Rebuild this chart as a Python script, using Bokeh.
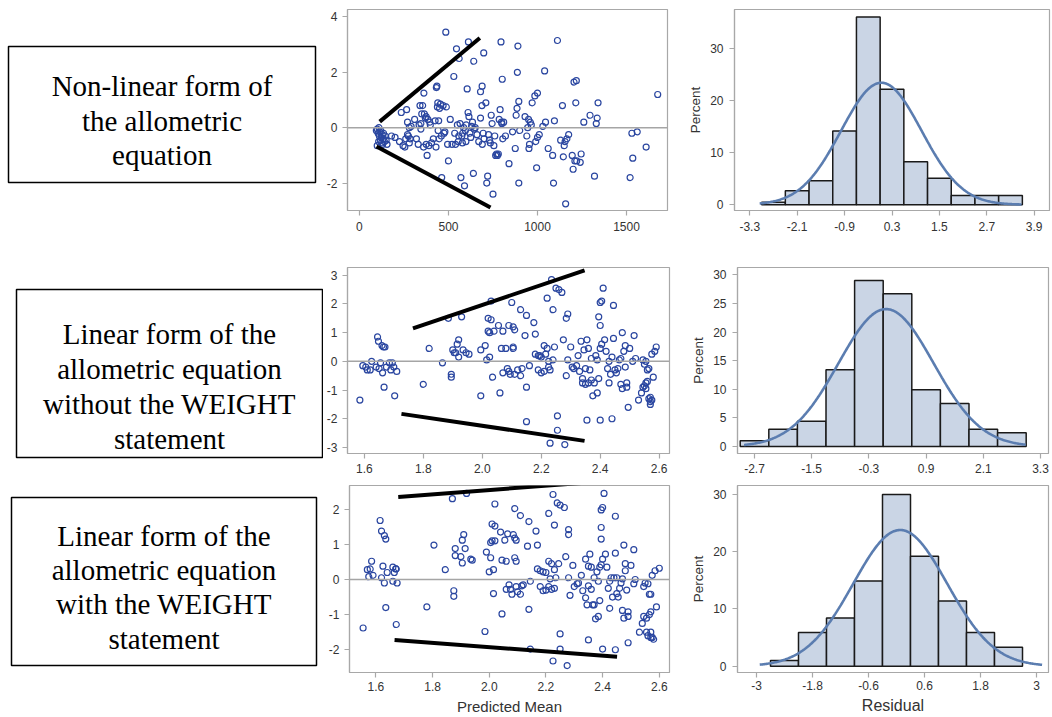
import numpy as np
from bokeh.plotting import figure
from bokeh.layouts import column, row
from bokeh.models import Range1d, FixedTicker, Span, Label, PolyAnnotation, Arrow
from bokeh.embed import file_html
from bokeh.resources import INLINE

# ---------------- data ----------------
panel_text = [
    ["Non-linear form of", "the allometric", "equation"],
    ["Linear form of the", "allometric equation", "without the WEIGHT", "statement"],
    ["Linear form of the", "allometric equation", "with the WEIGHT", "statement"],
]

# residual vs predicted (non-linear form)
scatter1_points = [
    (95,-0.1),(100,-0.05),(105,-0.2),(110,0.0),(112,-0.3),(115,-0.15),(118,-0.45),(120,-0.1),(122,-0.35),(125,-0.55),
    (128,-0.25),(130,-0.6),(133,-0.4),(135,-0.2),(140,-0.5),(145,-0.3),(100,-0.65),(108,-0.5),(150,-0.45),(155,-0.6),
    (180,-0.3),(200,-0.35),(225,-0.5),(235,0.55),(245,-0.65),(255,-0.7),(260,-0.4),(265,0.65),(270,0.2),(275,-0.3),
    (280,0.0),(285,-0.4),(290,0.05),(270,-0.25),(280,-0.55),
    (310,0.3),(320,-0.4),(330,-0.6),(335,0.1),(340,0.8),(345,0.15),(350,0.5),(355,0.8),(360,-0.7),(362,1.25),
    (365,0.5),(370,0.35),(375,-0.6),(380,-1.0),(385,0.3),(390,-0.65),(395,0.2),(398,0.1),(345,-0.05),(375,0.4),
    (405,-0.55),(415,-0.4),(425,0.25),(430,-0.7),(432,1.45),(435,1.5),(438,0.75),(440,0.9),(442,-0.1),(445,0.25),
    (448,-0.4),(450,0.7),(455,0.85),(460,-0.3),(462,-1.8),(470,0.8),(475,-0.2),(480,-0.15),(485,3.45),(488,0.75),
    (495,-0.6),(500,-1.2),
    (510,0.3),(520,-0.6),(530,1.85),(535,-0.2),(540,-0.6),(545,2.85),(550,0.1),(555,-0.5),(558,-0.3),(560,2.5),
    (565,0.15),(570,-1.8),(575,-0.3),(578,-0.55),(580,-0.2),(585,0.0),(590,-2.1),(595,-0.1),(600,0.1),(598,-0.5),
    (605,1.4),(610,0.55),(612,3.1),(615,0.4),(620,-0.2),(625,-0.35),(630,0.05),(635,0.2),(640,-1.65),(642,2.4),
    (645,-0.05),(650,0.0),(660,-0.25),(680,1.3),(670,-0.5),(689,1.5),(680,0.35),(698,2.7),(688,0.8),(690,-0.6),
    (695,-0.2),(700,-0.4),
    (710,0.9),(715,-2.0),(720,-1.75),(725,-0.25),(730,-0.45),(735,-0.55),(740,0.45),(745,0.15),(750,-2.4),(755,-0.65),
    (760,-0.3),(765,-1.0),(770,-0.95),(775,-1.0),(780,-0.95),(785,0.3),(790,0.65),(802,1.75),(795,3.1),(798,0.2),
    (800,0.15),(805,-0.4),
    (810,0.2),(820,-0.3),(840,-1.3),(860,-0.15),(875,-0.75),(880,0.45),(885,0.7),(887,2.0),(890,2.95),(895,0.95),
    (900,-0.1),(895,-2.0),
    (930,0.4),(940,-0.3),(945,0.0),(950,0.3),(952,-0.75),(955,-0.6),(960,0.2),(965,0.1),(970,0.9),(985,1.15),
    (990,-0.5),(995,-1.45),(1000,1.25),(1000,-0.35),
    (1010,-0.25),(1030,0.05),(1040,2.05),(1045,0.2),(1060,-0.75),(1085,-1.0),(1090,-2.0),(1095,0.25),
    (1112,3.15),(1130,-0.45),(1140,0.8),(1145,-1.05),(1150,-0.65),(1155,-0.5),(1158,-2.75),(1165,-0.4),(1175,-0.25),
    (1195,-1.0),(1200,-1.5),(1205,1.65),(1210,-1.2),(1215,0.9),(1218,1.7),(1220,-1.2),(1240,-1.25),(1245,-0.95),
    (1260,0.2),(1295,0.45),(1320,-1.75),(1330,0.15),(1335,0.35),(1340,0.9),(1520,-1.8),(1530,-0.2),(1535,-1.1),
    (1560,-0.15),(1610,-0.7),(1675,1.2),
]

# linear form without WEIGHT
scatter2_points = [
    (1.585,-1.35),(1.595,-0.15),(1.605,-0.2),(1.61,-0.3),(1.62,-0.3),(1.625,0.0),(1.645,0.85),(1.648,0.7),(1.65,-0.25),
    (1.655,-0.05),(1.66,0.55),(1.662,-0.4),(1.665,0.5),(1.667,-0.9),(1.67,0.5),(1.675,-0.2),(1.685,-0.05),(1.69,-0.3),
    (1.695,-0.05),(1.70,-0.2),(1.703,-1.2),(1.71,-0.35),(1.64,-0.2),
    (1.80,-0.8),(1.82,0.45),(1.865,-0.05),(1.885,1.5),(1.895,-0.45),(1.895,-0.55),(1.90,0.4),(1.905,0.3),(1.91,0.3),
    (1.915,0.6),(1.92,0.75),(1.92,0.15),(1.93,1.55),(1.935,0.4),(1.945,0.3),(1.955,0.25),
    (1.995,0.4),(1.995,-1.2),(2.01,0.55),(2.015,0.05),(2.02,1.5),(2.02,1.05),(2.025,1.0),(2.025,0.15),(2.03,1.45),
    (2.03,2.1),(2.035,-0.55),(2.04,1.05),(2.055,1.25),(2.06,-1.1),(2.065,0.45),(2.07,1.05),(2.07,-0.4),(2.08,0.45),
    (2.085,-0.25),(2.09,-0.35),(2.09,1.25),(2.095,-0.45),(2.10,2.05),(2.105,1.2),(2.105,0.5),(2.105,0.45),(2.11,1.1),
    (2.11,-0.45),
    (2.12,-0.3),(2.13,1.8),(2.13,-0.5),(2.135,-0.25),(2.145,0.9),(2.15,1.6),(2.15,-0.9),(2.15,-2.1),(2.16,-0.15),
    (2.175,1.35),(2.18,0.95),(2.18,0.25),(2.19,0.2),(2.19,-0.3),(2.195,0.2),(2.20,-0.4),(2.20,0.15),
    (2.21,0.55),(2.21,-0.35),(2.215,0.25),(2.22,2.2),(2.22,0.45),(2.225,-0.2),(2.225,0.0),(2.23,-0.3),(2.23,-2.85),
    (2.235,2.85),(2.24,1.8),(2.24,0.05),(2.245,0.5),(2.25,2.55),(2.255,-2.4),(2.255,-1.9),(2.26,2.5),(2.27,2.4),
    (2.275,0.75),(2.28,-2.9),(2.285,1.5),(2.29,1.65),(2.29,0.05),(2.285,-0.5),(2.30,0.5),
    (2.305,-0.2),(2.31,-0.25),(2.32,-0.15),(2.325,0.2),(2.33,-0.35),(2.335,0.7),(2.34,-0.6),(2.34,-0.75),(2.345,0.4),
    (2.35,-0.8),(2.35,-0.25),(2.355,0.75),(2.355,-2.05),(2.36,0.45),(2.36,-0.75),(2.365,-0.3),(2.37,0.1),(2.37,-0.65),
    (2.375,-1.2),(2.38,-0.75),(2.385,0.2),(2.39,-1.1),(2.39,0.05),(2.395,-0.6),(2.395,1.55),(2.40,2.05),(2.40,1.25),
    (2.40,0.45),(2.40,-2.05),
    (2.405,2.1),(2.405,0.6),(2.41,2.55),(2.415,0.75),(2.42,0.35),(2.425,-0.25),(2.43,-0.75),(2.43,0.0),(2.435,-0.45),
    (2.44,0.15),(2.44,-2.0),(2.445,1.95),(2.445,0.8),(2.45,-0.3),(2.455,-0.4),(2.46,-0.25),(2.465,0.05),(2.47,0.1),
    (2.47,-0.8),(2.475,1.0),(2.475,-0.95),(2.48,0.35),(2.485,0.55),(2.485,-0.2),(2.49,-0.75),(2.49,-0.9),(2.495,-1.6),
    (2.50,0.45),
    (2.51,0.0),(2.515,0.9),(2.52,0.1),(2.53,-1.35),(2.54,-1.1),(2.545,-0.9),(2.545,0.05),(2.55,-0.85),(2.55,-0.1),
    (2.555,0.0),(2.555,-0.75),(2.56,-0.3),(2.56,-0.7),(2.565,-0.25),(2.565,-1.3),(2.57,-1.4),(2.57,-1.5),(2.575,-1.35),
    (2.575,0.25),(2.58,-0.55),(2.585,0.35),(2.59,0.5),(2.555,-0.95),(2.57,-1.25),
]

# linear form with WEIGHT
scatter3_points = [
    (1.555,-1.38),(1.57,0.28),(1.575,0.08),(1.58,0.3),(1.585,0.52),(1.59,0.12),(1.615,1.68),(1.62,1.38),(1.62,0.05),
    (1.625,0.38),(1.63,1.25),(1.63,-0.1),(1.635,1.15),(1.635,-0.8),(1.64,0.2),(1.66,0.35),(1.66,-0.05),(1.665,0.2),
    (1.67,0.3),(1.672,-1.28),(1.675,-0.1),(1.672,0.3),
    (1.78,-0.78),(1.805,0.98),(1.845,0.28),(1.87,2.3),(1.875,-0.32),(1.875,-0.48),(1.88,0.88),(1.88,0.68),(1.90,0.65),
    (1.905,1.12),(1.905,0.47),(1.91,1.28),(1.915,0.88),(1.92,2.45),(1.935,0.58),(1.94,0.55),
    (1.985,-1.48),(1.99,0.78),(2.0,0.22),(2.005,1.05),(2.005,0.62),(2.01,1.58),(2.01,1.1),(2.015,-0.4),(2.015,0.28),
    (2.02,1.52),(2.02,1.1),(2.02,2.15),(2.04,1.35),(2.045,0.55),(2.045,-0.98),(2.055,1.12),(2.06,0.52),(2.06,-0.28),
    (2.065,1.3),(2.07,-0.15),(2.075,-0.28),(2.08,-0.42),(2.085,1.28),(2.09,1.18),(2.09,2.02),(2.09,0.62),(2.095,0.52),
    (2.095,1.12),(2.095,-0.2),(2.10,-0.35),
    (2.11,1.82),(2.11,-0.42),(2.115,-0.18),(2.12,-0.15),(2.135,0.95),(2.14,1.65),(2.14,-0.85),(2.145,-0.05),
    (2.145,-1.98),(2.165,1.38),(2.17,0.98),(2.17,0.3),(2.18,0.25),(2.18,-0.2),(2.19,0.22),(2.19,-0.32),(2.20,0.2),
    (2.20,-0.3),
    (2.21,1.88),(2.21,0.52),(2.21,-0.2),(2.215,0.02),(2.22,0.45),(2.22,-0.28),(2.225,2.42),(2.225,-2.32),(2.23,1.55),
    (2.23,0.28),(2.23,-0.25),(2.235,0.05),(2.24,2.18),(2.245,0.45),(2.25,-1.55),(2.25,2.12),(2.25,-1.98),(2.265,2.05),
    (2.27,0.65),(2.275,-2.45),(2.28,1.42),(2.28,1.28),(2.28,0.05),(2.285,-0.45),(2.295,0.4),(2.30,-0.2),
    (2.31,-0.12),(2.315,-0.1),(2.325,0.12),(2.33,-0.32),(2.34,0.58),(2.34,-0.52),(2.345,-0.72),(2.35,0.38),(2.35,-0.18),
    (2.35,-1.72),(2.355,0.72),(2.36,0.35),(2.36,-0.28),(2.365,-0.72),(2.37,0.05),(2.37,-0.72),(2.375,-1.12),(2.38,0.22),
    (2.385,-0.05),(2.385,-1.05),(2.39,0.35),(2.39,-0.6),(2.395,1.98),(2.395,1.48),(2.395,1.15),(2.395,0.42),(2.40,2.05),
    (2.40,0.58),(2.40,-1.98),
    (2.405,2.45),(2.41,0.72),(2.415,0.35),(2.42,-0.25),(2.425,-0.05),(2.425,-0.82),(2.43,0.05),(2.435,-0.5),(2.44,0.05),
    (2.445,0.75),(2.445,1.8),(2.445,-2.0),(2.45,-0.4),(2.45,0.05),(2.455,-0.5),(2.46,-0.25),(2.465,-0.1),(2.47,0.02),
    (2.47,-0.88),(2.475,0.98),(2.475,-1.1),(2.48,0.45),(2.48,0.25),(2.485,-0.3),(2.49,-0.92),(2.49,-1.05),(2.49,-1.8),
    (2.50,0.4),
    (2.51,0.85),(2.51,-0.12),(2.515,0.0),(2.53,-1.5),(2.54,-1.25),(2.545,-1.05),(2.545,-0.2),(2.55,-0.1),(2.555,-1.1),
    (2.555,-1.5),(2.56,-0.12),(2.56,-1.6),(2.565,-1.0),(2.565,-0.42),(2.57,-0.42),(2.57,-0.92),(2.57,-1.65),(2.57,-1.5),
    (2.575,0.12),(2.575,-1.65),(2.58,-1.7),(2.585,0.25),(2.59,-0.78),(2.60,0.32),
]

# hand-drawn envelope lines (x0, y0, x1, y1)
scatter1_guides = [(114, 0.22, 676, 3.24), (96, -0.68, 736, -2.88)]
scatter2_guides = [(1.765, 1.15, 2.347, 3.17), (1.726, -1.83, 2.347, -2.77)]
scatter3_guides = [(1.679, 2.35, 2.386, 2.785), (1.666, -1.72, 2.451, -2.20)]

# histograms of residuals (percent per bin)
hist1_edges = [-3.0, -2.4, -1.8, -1.2, -0.6, 0.0, 0.6, 1.2, 1.8, 2.4, 3.0, 3.6]
hist1_percent = [0.5, 2.7, 4.6, 14.2, 36.1, 22.2, 8.3, 5.1, 1.8, 1.8, 1.8]
hist2_edges = [-3.0, -2.4, -1.8, -1.2, -0.6, 0.0, 0.6, 1.2, 1.8, 2.4, 3.0]
hist2_percent = [1.0, 3.0, 4.4, 13.4, 29.0, 26.7, 9.9, 7.5, 3.0, 2.4]
hist3_edges = [-2.7, -2.1, -1.5, -0.9, -0.3, 0.3, 0.9, 1.5, 2.1, 2.7]
hist3_percent = [1.0, 5.9, 8.4, 14.9, 30.0, 19.2, 11.4, 5.9, 3.3]

# fitted normal curves: (mean, sd, drawn from, drawn to)
hist1_normal = (0.03, 1.02, -3.05, 3.58)
hist2_normal = (0.06, 0.997, -2.92, 2.99)
hist3_normal = (0.08, 1.006, -2.93, 3.12)

# tick values and labels
s1_xticks, s1_xlabels = [0, 500, 1000, 1500], ["0", "500", "1000", "1500"]
s1_yticks, s1_ylabels = [-2, 0, 2, 4], ["-2", "0", "2", "4"]
s23_xticks = [1.6, 1.8, 2.0, 2.2, 2.4, 2.6]
s23_xlabels = ["1.6", "1.8", "2.0", "2.2", "2.4", "2.6"]
s2_yticks, s2_ylabels = [-3, -2, -1, 0, 1, 2, 3], ["-3", "-2", "-1", "0", "1", "2", "3"]
s3_yticks, s3_ylabels = [-2, -1, 0, 1, 2], ["-2", "-1", "0", "1", "2"]
h1_xticks = [-3.3, -2.1, -0.9, 0.3, 1.5, 2.7, 3.9]
h1_xlabels = ["-3.3", "-2.1", "-0.9", "0.3", "1.5", "2.7", "3.9"]
h2_xticks = [-2.7, -1.5, -0.3, 0.9, 2.1, 3.3]
h2_xlabels = ["-2.7", "-1.5", "-0.3", "0.9", "2.1", "3.3"]
h3_xticks = [-3.0, -1.8, -0.6, 0.6, 1.8, 3.0]
h3_xlabels = ["-3", "-1.8", "-0.6", "0.6", "1.8", "3"]
h1_yticks, h1_ylabels = [0, 10, 20, 30], ["0", "10", "20", "30"]
h2_yticks, h2_ylabels = [0, 5, 10, 15, 20, 25, 30], ["0", "5", "10", "15", "20", "25", "30"]
h3_yticks, h3_ylabels = [0, 10, 20, 30], ["0", "10", "20", "30"]

# ---------------- styling ----------------
SANS = "Liberation Sans"
SERIF = "Liberation Serif"
TXT = "#333333"
WALL = "#a8a8a8"
MARK = "#2a46a0"
BAR_FILL = "#cad5e5"
CURVE = "#5b7db0"
BOX_W = 323


def style_axes(p, xt, xl, yt, yl, x_out=5, x_standoff=6, y_standoff=5):
    p.grid.grid_line_color = None
    p.outline_line_color = WALL
    p.outline_line_width = 1.2
    for ax in (p.xaxis[0], p.yaxis[0]):
        ax.axis_line_color = WALL
        ax.axis_line_width = 1.2
        ax.major_tick_line_color = WALL
        ax.major_tick_line_width = 1.2
        ax.major_tick_in = 0
        ax.minor_tick_line_color = None
        ax.major_label_text_font = SANS
        ax.major_label_text_font_size = "12px"
        ax.major_label_text_color = TXT
        ax.axis_label_text_font = SANS
        ax.axis_label_text_font_style = "normal"
        ax.axis_label_text_color = TXT
    p.xaxis[0].major_tick_out = x_out
    p.yaxis[0].major_tick_out = 5
    p.xaxis[0].major_label_standoff = x_standoff
    p.yaxis[0].major_label_standoff = y_standoff
    p.xaxis[0].ticker = FixedTicker(ticks=xt)
    p.yaxis[0].ticker = FixedTicker(ticks=yt)
    p.xaxis[0].major_label_overrides = {t: s for t, s in zip(xt, xl)}
    p.yaxis[0].major_label_overrides = {t: s for t, s in zip(yt, yl)}


def make_box(H, box, cx, baselines, lines):
    # this panel's data units are pixels measured from the top of its row
    p = figure(width=BOX_W, height=H, min_border=0,
               x_range=Range1d(0, BOX_W), y_range=Range1d(H, 0),
               toolbar_location=None, output_backend="svg",
               x_axis_location=None, y_axis_location=None)
    p.outline_line_color = None
    p.grid.grid_line_color = None
    x0, x1, y0, y1 = box
    p.add_layout(PolyAnnotation(xs=[x0, x1, x1, x0], ys=[y0, y0, y1, y1],
                                fill_color=None, fill_alpha=0,
                                line_color="black", line_alpha=1.0, line_width=1.5))
    for txt, yb in zip(lines, baselines):
        p.add_layout(Label(x=cx, y=yb, text=txt, text_font=SERIF, text_font_size="29px",
                           text_align="center", text_baseline="alphabetic",
                           text_color="black"))
    return p


def make_scatter(pts, guides, xr, yr, fw, fh, bl, br, bt, bb, xt, xl, yt, yl,
                 xlabel=None, x_standoff=6):
    p = figure(frame_width=fw, frame_height=fh, min_border_left=bl, min_border_right=br,
               min_border_top=bt, min_border_bottom=bb, x_range=Range1d(*xr),
               y_range=Range1d(*yr), toolbar_location=None, output_backend="svg")
    style_axes(p, xt, xl, yt, yl, x_standoff=x_standoff)
    p.add_layout(Span(location=0, dimension="width", line_color="#a5a5a5", line_width=1.5))
    xs = [a for a, b in pts]
    ys = [b for a, b in pts]
    p.scatter(xs, ys, marker="circle", size=6, fill_color=None, line_color=MARK, line_width=1.2)
    for g in guides:
        p.add_layout(Arrow(x_start=g[0], y_start=g[1], x_end=g[2], y_end=g[3], end=None,
                           line_color="black", line_width=4))
    if xlabel:
        p.xaxis[0].axis_label = xlabel
        p.xaxis[0].axis_label_text_font_size = "15px"
        p.xaxis[0].axis_label_standoff = 4
    return p


def make_hist(edges, pct, normal, bw, xr, yr, fw, fh, bl, br, bt, bb, xt, xl, yt, yl,
              xlabel=None, x_standoff=6):
    p = figure(frame_width=fw, frame_height=fh, min_border_left=bl, min_border_right=br,
               min_border_top=bt, min_border_bottom=bb, x_range=Range1d(*xr),
               y_range=Range1d(*yr), toolbar_location=None, output_backend="svg")
    style_axes(p, xt, xl, yt, yl, x_standoff=x_standoff)
    p.quad(left=edges[:-1], right=edges[1:], bottom=0, top=pct,
           fill_color=BAR_FILL, line_color="#1a1a1a", line_width=1.5)
    mu, sd, lo, hi = normal
    xx = np.linspace(lo, hi, 300)
    yy = 100 * bw * np.exp(-0.5 * ((xx - mu) / sd) ** 2) / (sd * np.sqrt(2 * np.pi))
    p.line(xx, yy, line_color=CURVE, line_width=2.6)
    p.yaxis[0].axis_label = "Percent"
    p.yaxis[0].axis_label_text_font_size = "13.5px"
    p.yaxis[0].axis_label_standoff = 4
    p.yaxis[0].major_label_standoff = 6
    if xlabel:
        p.xaxis[0].axis_label = xlabel
        p.xaxis[0].axis_label_text_font_size = "16px"
        p.xaxis[0].axis_label_standoff = 4
    return p


# ---------------- text boxes (rows of height 245, 235, 237) ----------------
b1 = make_box(245, (8, 315, 46, 182), 161.5, [85, 120, 154], panel_text[0])
b2 = make_box(235, (16, 322, 44, 212), 169, [88, 123, 158, 193], panel_text[1])
b3 = make_box(237, (11, 316, 17, 185), 163.5, [55, 89, 123, 158], panel_text[2])

# ---------------- row 1 ----------------
s1 = make_scatter(scatter1_points, scatter1_guides, (-67, 1730), (-2.99, 4.27),
                  320, 201, 24, 18, 9, 35, s1_xticks, s1_xlabels, s1_yticks, s1_ylabels)
h1 = make_hist(hist1_edges, hist1_percent, hist1_normal, 0.6, (-3.687, 4.287), (-1.1, 37.56),
               315, 201, 48, 4, 9, 35, h1_xticks, h1_xlabels, h1_yticks, h1_ylabels)

# ---------------- row 2 ----------------
s2 = make_scatter(scatter2_points, scatter2_guides, (1.543, 2.635), (-3.21, 3.27),
                  322, 186, 24, 16, 22, 27, s23_xticks, s23_xlabels, s2_yticks, s2_ylabels,
                  x_standoff=5)
h2 = make_hist(hist2_edges, hist2_percent, hist2_normal, 0.6, (-3.057, 3.468), (-1.22, 31.28),
               311, 186, 52, 4, 22, 27, h2_xticks, h2_xlabels, h2_yticks, h2_ylabels,
               x_standoff=5)

# ---------------- row 3 ----------------
s3 = make_scatter(scatter3_points, scatter3_guides, (1.507, 2.636), (-2.647, 2.676),
                  320, 187, 26, 16, 5, 45, s23_xticks, s23_xlabels, s3_yticks, s3_ylabels,
                  xlabel="Predicted Mean", x_standoff=4)
h3 = make_hist(hist3_edges, hist3_percent, hist3_normal, 0.6, (-3.407, 3.257), (-1.10, 31.57),
               311, 187, 52, 4, 5, 45, h3_xticks, h3_xlabels, h3_yticks, h3_ylabels,
               xlabel="Residual", x_standoff=3)

boxes = column(b1, b2, b3, spacing=0)
charts = column(row(s1, h1, spacing=0), row(s2, h2, spacing=0), row(s3, h3, spacing=0), spacing=0)
layout = row(boxes, charts, spacing=0)

open("out.html", "w").write(file_html(layout, INLINE))
